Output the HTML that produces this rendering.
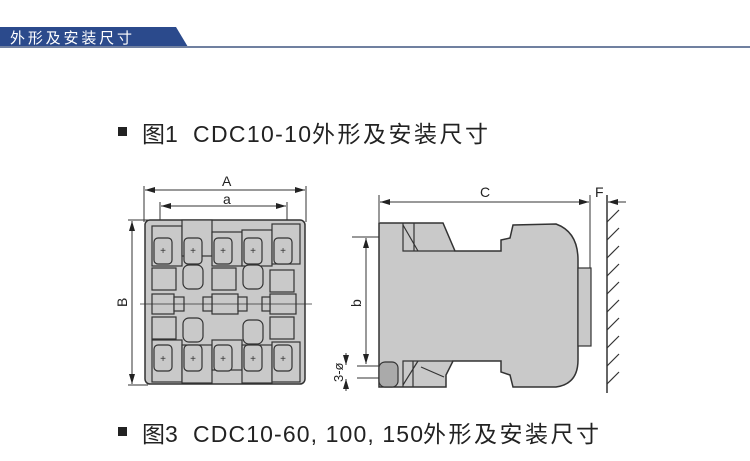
<!DOCTYPE html>
<html><head><meta charset="utf-8"><style>
html,body{margin:0;padding:0;background:#fff;width:750px;height:461px;overflow:hidden}
svg{display:block}
text{font-family:"Liberation Sans","Noto Sans CJK SC",sans-serif}
</style></head><body>
<svg width="750" height="461" viewBox="0 0 750 461" xmlns="http://www.w3.org/2000/svg">
<defs>
<marker id="ar" markerWidth="10" markerHeight="6" refX="10" refY="3" orient="auto" markerUnits="userSpaceOnUse"><path d="M0,0 L10,3 L0,6 Z" fill="#222"/></marker>
<marker id="al" markerWidth="10" markerHeight="6" refX="0" refY="3" orient="auto" markerUnits="userSpaceOnUse"><path d="M10,0 L0,3 L10,6 Z" fill="#222"/></marker>
</defs>
<polygon points="0,27 176,27 188,47 0,47" fill="#2b4a8c"/>
<rect x="0" y="46" width="750" height="2" fill="#7080a0"/>
<text x="10" y="43" font-size="15" fill="#fff" textLength="122" lengthAdjust="spacing">外形及安装尺寸</text>
<rect x="118" y="127" width="9" height="9" fill="#222"/>
<text y="142" font-size="23" fill="#222"><tspan x="142">图1</tspan><tspan x="193" textLength="118" lengthAdjust="spacing">CDC10-10</tspan><tspan x="312" textLength="176" lengthAdjust="spacing">外形及安装尺寸</tspan></text>
<rect x="118" y="427" width="9" height="9" fill="#222"/>
<text y="442" font-size="23" fill="#222"><tspan x="142">图3</tspan><tspan x="193" textLength="230" lengthAdjust="spacing">CDC10-60, 100, 150</tspan><tspan x="423" textLength="176" lengthAdjust="spacing">外形及安装尺寸</tspan></text>

<g stroke="#333" stroke-width="1" fill="none">
<line x1="144" y1="186" x2="144" y2="222"/><line x1="306" y1="186" x2="306" y2="222"/>
<line x1="145" y1="190" x2="305" y2="190" marker-start="url(#al)" marker-end="url(#ar)"/>
<line x1="160" y1="202" x2="160" y2="235"/><line x1="287" y1="202" x2="287" y2="235"/>
<line x1="161" y1="206" x2="286" y2="206" marker-start="url(#al)" marker-end="url(#ar)"/>
<line x1="128" y1="220" x2="148" y2="220"/><line x1="128" y1="385" x2="148" y2="385"/>
<line x1="132" y1="221" x2="132" y2="384" marker-start="url(#al)" marker-end="url(#ar)"/>
</g>
<text x="222" y="186" font-size="14" fill="#222">A</text>
<text x="223" y="204" font-size="14" fill="#222">a</text>
<text x="0" y="0" font-size="14" fill="#222" transform="translate(127,307) rotate(-90)">B</text>
<rect x="145" y="220" width="160" height="164" rx="5" fill="#c9c9c9" stroke="#333" stroke-width="1.5"/>
<g stroke="#333" stroke-width="1.2" fill="#c9c9c9">
<rect x="152" y="226" width="30" height="40"/><rect x="182" y="220" width="30" height="36"/><rect x="212" y="232" width="30" height="34"/><rect x="242" y="230" width="30" height="36"/><rect x="272" y="224" width="28" height="40"/>
<rect x="152" y="340" width="30" height="42"/><rect x="182" y="345" width="30" height="38"/><rect x="212" y="340" width="30" height="30"/><rect x="242" y="345" width="30" height="38"/><rect x="272" y="342" width="28" height="40"/>
</g>
<g stroke="#333" stroke-width="1.2" fill="#c9c9c9">
<rect x="154" y="238" width="18" height="26" rx="4"/><rect x="184" y="238" width="18" height="26" rx="4"/><rect x="214" y="238" width="18" height="26" rx="4"/><rect x="244" y="238" width="18" height="26" rx="4"/><rect x="274" y="238" width="18" height="26" rx="4"/>
<rect x="154" y="345" width="18" height="26" rx="4"/><rect x="184" y="345" width="18" height="26" rx="4"/><rect x="214" y="345" width="18" height="26" rx="4"/><rect x="244" y="345" width="18" height="26" rx="4"/><rect x="274" y="345" width="18" height="26" rx="4"/>
<rect x="152" y="268" width="24" height="22"/><rect x="212" y="268" width="24" height="22"/><rect x="270" y="270" width="24" height="22"/>
<rect x="183" y="265" width="20" height="24" rx="6"/><rect x="243" y="265" width="20" height="24" rx="6"/>
<rect x="152" y="294" width="22" height="20"/><rect x="174" y="297" width="10" height="14"/>
<rect x="212" y="294" width="26" height="20"/><rect x="203" y="297" width="9" height="14"/><rect x="238" y="297" width="9" height="14"/>
<rect x="270" y="294" width="26" height="20"/><rect x="262" y="297" width="8" height="14"/>
<rect x="152" y="317" width="24" height="22"/><rect x="270" y="317" width="24" height="22"/>
<rect x="183" y="318" width="20" height="24" rx="6"/><rect x="243" y="320" width="20" height="24" rx="6"/>
</g>
<g font-size="10" fill="#333" text-anchor="middle">
<text x="163" y="254">+</text><text x="193" y="254">+</text><text x="223" y="254">+</text><text x="253" y="254">+</text><text x="283" y="254">+</text>
<text x="163" y="362">+</text><text x="193" y="362">+</text><text x="223" y="362">+</text><text x="253" y="362">+</text><text x="283" y="362">+</text>
</g>
<line x1="140" y1="304" x2="312" y2="304" stroke="#333" stroke-width="0.8"/>

<g stroke="#333" stroke-width="1" fill="none">
<line x1="379" y1="195" x2="379" y2="222"/>
<line x1="380" y1="202" x2="589" y2="202" marker-start="url(#al)" marker-end="url(#ar)"/>
<line x1="590" y1="195" x2="590" y2="268"/>
<line x1="626" y1="202" x2="608" y2="202" marker-end="url(#ar)"/>
<line x1="352" y1="237" x2="383" y2="237"/>
<line x1="366" y1="238" x2="366" y2="364" marker-start="url(#al)" marker-end="url(#ar)"/>
<line x1="357" y1="366" x2="383" y2="366"/><line x1="357" y1="378" x2="383" y2="378"/>
<line x1="346" y1="353" x2="346" y2="365" marker-end="url(#ar)"/>
<line x1="346" y1="391" x2="346" y2="379" marker-end="url(#ar)"/>
</g>
<text x="480" y="197" font-size="14" fill="#222">C</text>
<text x="595" y="197" font-size="14" fill="#222">F</text>
<text x="0" y="0" font-size="14" fill="#222" transform="translate(361,307) rotate(-90)">b</text>
<text x="0" y="0" font-size="13" fill="#222" transform="translate(343,382) rotate(-90)">3-ø</text>
<path d="M379,223 L443,223 L455,251 L501,251 L501,240 L510,238 L513,225 L556,224 Q578,232 578,260 L578,360 Q578,384 556,387 L513,387 L510,375 L501,372 L501,361 L453,361 L446,375 L446,387 L379,387 Z" fill="#c9c9c9" stroke="#333" stroke-width="1.5"/>
<g stroke="#333" stroke-width="1.2" fill="none">
<polyline points="403,223 403,251 455,251"/><line x1="403" y1="225" x2="418" y2="251"/><line x1="414" y1="223" x2="414" y2="251"/>
<polyline points="403,387 403,361 453,361"/><line x1="403" y1="385" x2="418" y2="361"/><line x1="413" y1="361" x2="413" y2="387"/><line x1="421" y1="367" x2="444" y2="377"/>
</g>
<rect x="379" y="362" width="19" height="25" rx="6" fill="#aaa" stroke="#333" stroke-width="1.2"/>
<rect x="578" y="268" width="13" height="78" fill="#c9c9c9" stroke="#333" stroke-width="1.2"/>
<line x1="607" y1="195" x2="607" y2="393" stroke="#333" stroke-width="1.5"/>
<g stroke="#333" stroke-width="1.2">
<line x1="607" y1="222" x2="619" y2="210"/><line x1="607" y1="240" x2="619" y2="228"/><line x1="607" y1="258" x2="619" y2="246"/><line x1="607" y1="276" x2="619" y2="264"/><line x1="607" y1="294" x2="619" y2="282"/><line x1="607" y1="312" x2="619" y2="300"/><line x1="607" y1="330" x2="619" y2="318"/><line x1="607" y1="348" x2="619" y2="336"/><line x1="607" y1="366" x2="619" y2="354"/><line x1="607" y1="384" x2="619" y2="372"/>
</g>
</svg>
</body></html>
